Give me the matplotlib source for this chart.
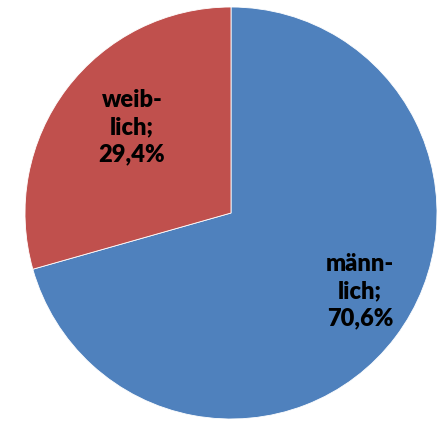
import matplotlib
matplotlib.use("Agg")
import matplotlib.pyplot as plt

labels = ["männ-\nlich;", "weib-\nlich;"]
shares = [70.6, 29.4]
colors = ["#4F81BD", "#C0504D"]
# label centres in pixel coords of the 437x422 picture
label_px = [(360, 291), (132, 127)]

W, H = 437, 422
cx, cy, r = 231, 213, 206

fig = plt.figure(figsize=(W / 100, H / 100), dpi=100)
ax = fig.add_axes([0, 0, 1, 1])
ax.pie(shares, colors=colors, startangle=90, counterclock=False,
       radius=1, center=(0, 0),
       wedgeprops=dict(edgecolor="white", linewidth=0.6))
ax.set_xlim(-cx / r, (W - cx) / r)
ax.set_ylim(-(H - cy) / r, cy / r)
ax.set_aspect("equal")
ax.axis("off")

for lab, val, (px, py) in zip(labels, shares, label_px):
    txt = lab + "\n" + f"{val:.1f}%".replace(".", ",")
    ax.text((px - cx) / r, (cy - py) / r, txt, ha="center", va="center",
            fontsize=17, fontweight="heavy", family=["Lato", "DejaVu Sans"],
            linespacing=1.3, color="black")

fig.savefig("out.png", dpi=100)
